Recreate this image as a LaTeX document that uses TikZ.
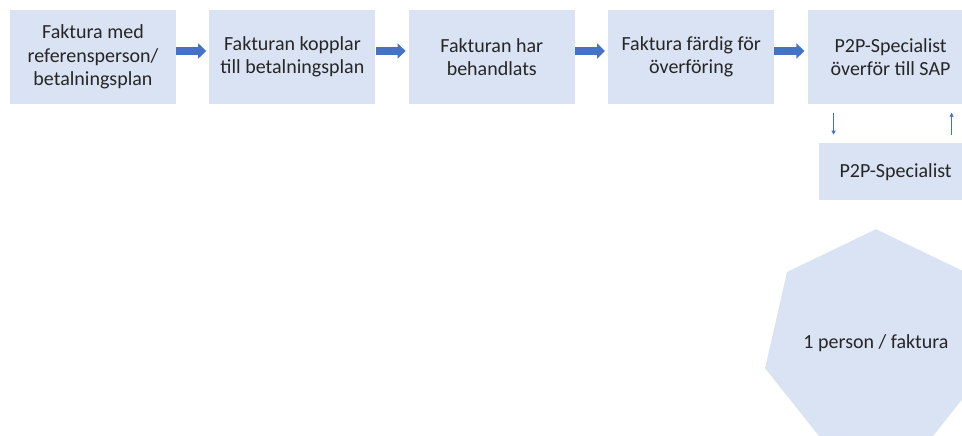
\documentclass[tikz,border=0pt]{standalone}
\usepackage{fontspec}
\setmainfont{Carlito}
\usetikzlibrary{%
	calc,%
	arrows.meta,%
	shapes.geometric,%
	positioning,%
}
\definecolor{cfill}{RGB}{218, 227, 243}
\definecolor{carrow}{RGB}{68, 114, 196}
\definecolor{ctext}{RGB}{38, 38, 38}
\tikzset{
	nodes={align=center, text=ctext},
}

\begin{document}
\begin{tikzpicture}[x=1pt, y=1pt, node distance=33pt,%
		stepbox/.style={rectangle, fill=cfill, minimum width=166pt, minimum height=94pt, inner sep=2pt, font=\fontsize{20}{23.5}\selectfont},%
		flow/.style={carrow, line width=7.5pt, -{Triangle[length=8pt, width=15pt]}, shorten >=3pt},%
		back/.style={carrow, line width=0.9pt, -{Triangle[length=4pt, width=4pt]}, shorten >=8.5pt, shorten <=8.5pt}]
	\useasboundingbox (0,0) rectangle (962,-436);

	\node[stepbox] (ref) at (93,-57) {Faktura med\\referensperson/\\betalningsplan};
	\node[stepbox] (koppl) [right=of ref] {Fakturan kopplar\\till betalningsplan};
	\node[stepbox] (behand) [right=of koppl] {Fakturan har\\behandlats};
	\node[stepbox] (fardig) [right=of behand] {Faktura färdig för\\överföring};
	\node[stepbox] (sap) [right=of fardig] {P2P-Specialist\\överför till SAP};

	\node[stepbox, minimum width=154pt, minimum height=57pt] (spec) [below=39pt of sap, xshift=5pt] {P2P-Specialist};

	\node[regular polygon, regular polygon sides=7, fill=cfill, minimum size=220pt, inner sep=0pt, font=\fontsize{20}{23.5}\selectfont] (pers) at (876,-343) {1 person / faktura};

	\draw[flow] ([yshift=6pt]ref.east) to ([yshift=6pt]koppl.west);
	\draw[flow] ([yshift=6pt]koppl.east) to ([yshift=6pt]behand.west);
	\draw[flow] ([yshift=6pt]behand.east) to ([yshift=6pt]fardig.west);
	\draw[flow] ([yshift=6pt]fardig.east) to ([yshift=6pt]sap.west);

	\draw[back] ([xshift=-57pt]sap.south) to ([xshift=-62pt]spec.north);
	\draw[back] ([xshift=56pt]spec.north) to ([xshift=61pt]sap.south);
\end{tikzpicture}
\end{document}
